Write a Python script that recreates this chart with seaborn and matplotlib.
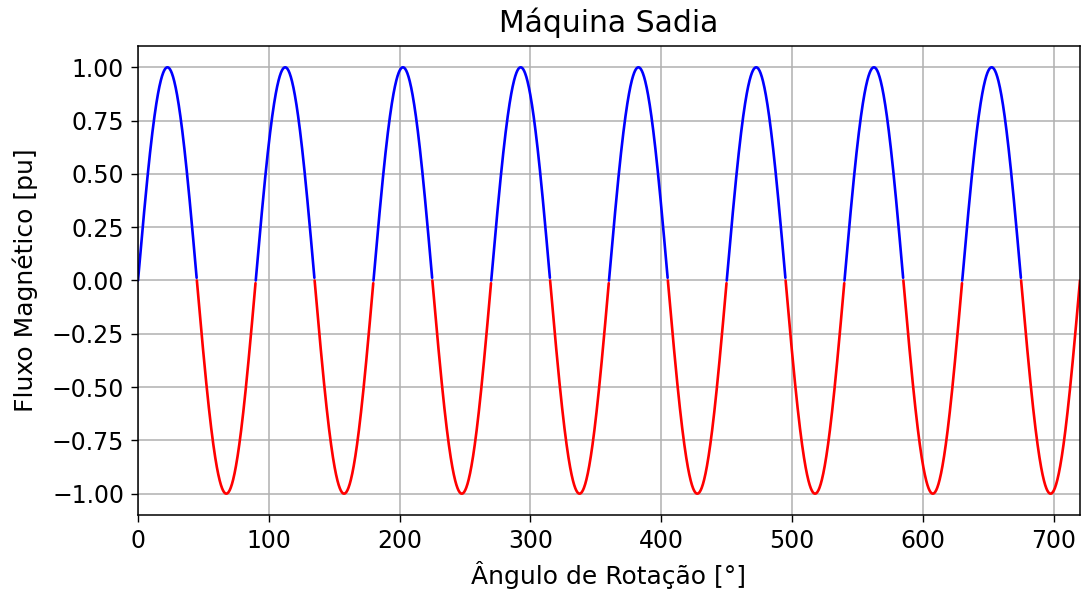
import numpy as np
import pandas as pd
import matplotlib
matplotlib.use("Agg")
import matplotlib.pyplot as plt
import seaborn as sns

# Chart parameters
angle_start = 0
angle_end = 720          # degrees
cycles_per_90 = 4        # sine completes one period every 90 degrees
amplitude = 1.0
title = "Máquina Sadia"
xlabel = "Ângulo de Rotação [°]"
ylabel = "Fluxo Magnético [pu]"
yticks = [-1.00, -0.75, -0.50, -0.25, 0.00, 0.25, 0.50, 0.75, 1.00]
xticks = [0, 100, 200, 300, 400, 500, 600, 700]

theta = np.linspace(angle_start, angle_end, 4001)
flux = amplitude * np.sin(np.deg2rad(cycles_per_90 * theta))
half = np.minimum((theta // 45).astype(int), 15)
sign = np.where(half % 2 == 0, "pos", "neg")
df = pd.DataFrame({"theta": theta, "flux": flux, "seg": half, "sign": sign})

sns.set_style("ticks")
plt.rcParams.update({"font.size": 17, "font.family": ["DejaVu Sans"],
                     "text.color": "black", "axes.labelcolor": "black",
                     "xtick.color": "black", "ytick.color": "black"})
fig, ax = plt.subplots(figsize=(10.84, 5.94), dpi=100)
sns.lineplot(data=df, x="theta", y="flux", hue="sign", units="seg", estimator=None,
             palette={"pos": "blue", "neg": "red"}, linewidth=1.9, ax=ax, legend=False)
ax.set_xlim(angle_start, angle_end)
ax.set_ylim(-1.1, 1.1)
ax.set_xticks(xticks)
ax.set_yticks(yticks)
ax.set_yticklabels([f"{v:.2f}".replace("-", "\u2212") for v in yticks])
ax.grid(True, color="#b0b0b0", linewidth=1.1)
ax.set_title(title, fontsize=21.5, pad=10)
ax.set_xlabel(xlabel, fontsize=18, labelpad=6)
ax.set_ylabel(ylabel, fontsize=18, labelpad=10)
ax.tick_params(labelsize=17, length=5, width=1, pad=5, colors="black")
for s in ax.spines.values():
    s.set_color("black")
    s.set_linewidth(1.1)
fig.subplots_adjust(left=0.1273, right=0.9963, top=0.9226, bottom=0.133)
fig.savefig("out.png", dpi=100)
